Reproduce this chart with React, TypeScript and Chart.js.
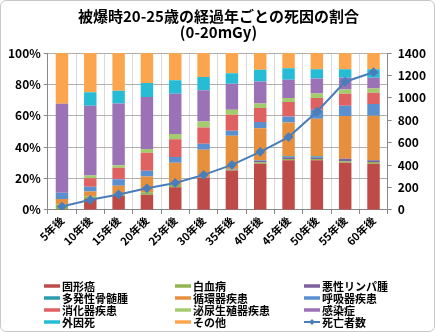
import React, { useEffect, useRef } from "react";
import { Chart, registerables } from "chart.js";

Chart.register(...registerables);

const categories = ["5年後", "10年後", "15年後", "20年後", "25年後", "30年後", "35年後", "40年後", "45年後", "50年後", "55年後", "60年後"];

const solidCancer = [0.5, 6.9, 9.0, 9.7, 14.4, 20.6, 25.2, 29.5, 31.6, 31.6, 30.1, 29.5];
const leukemia = [3.0, 1.7, 0.8, 1.5, 1.5, 0.4, 0.6, 0.9, 0.8, 0.8, 1.0, 1.0];
const lymphoma = [0, 0, 0, 0, 0, 0.2, 0.4, 1.0, 1.2, 1.0, 1.5, 1.1];
const myeloma = [0, 0, 0, 0, 0, 0, 0, 0.3, 0.6, 0.8, 0, 0];
const circulatory = [3.5, 3.2, 5.6, 10.1, 14.2, 17.2, 21.1, 20.4, 21.5, 23.9, 27.3, 28.4];
const respiratory = [4.0, 3.0, 4.1, 3.7, 3.7, 3.7, 3.2, 3.9, 3.9, 5.8, 6.5, 7.5];
const digestive = [0, 5.4, 7.3, 11.4, 11.2, 10.5, 10.1, 9.0, 9.2, 7.5, 7.7, 7.1];
const urogenital = [0, 1.7, 1.7, 2.4, 3.4, 3.7, 3.2, 2.8, 2.6, 2.8, 2.6, 2.8];
const infection = [56.7, 44.5, 39.4, 33.1, 25.6, 20.0, 16.6, 14.0, 11.6, 9.5, 7.5, 6.9];
const external = [0, 8.6, 8.0, 9.0, 8.6, 8.4, 6.7, 7.5, 7.3, 6.0, 5.4, 5.4];
const other = [32.3, 25.0, 24.1, 19.1, 17.4, 15.3, 12.9, 10.8, 9.7, 10.3, 10.3, 10.3];
const deaths = [30, 90, 138, 193, 241, 313, 402, 518, 650, 876, 1144, 1228];

const seriesNames = ["固形癌", "白血病", "悪性リンパ腫", "多発性骨髄腫", "循環器疾患", "呼吸器疾患", "消化器疾患", "泌尿生殖器疾患", "感染症", "外因死", "その他"];
const seriesColors = ["#BE4B48", "#90B550", "#7D60A0", "#2C9CB0", "#E6903D", "#5A8FD0", "#E06161", "#A3CD6D", "#9C72B7", "#27BCD6", "#FBA64E"];
const lineName = "死亡者数";
const lineColor = "#4A7EBB";

const FONT = "'Noto Sans CJK JP', 'Noto Sans', sans-serif";

const legendPlugin = {
  id: "gridLegend",
  afterDraw(chart: any) {
    const ctx = chart.ctx;
    const colX = [43, 174, 303];
    const rowY = [285, 297, 309, 321];
    ctx.save();
    ctx.font = `bold 11px ${FONT}`;
    ctx.textBaseline = "middle";
    ctx.fillStyle = "#000";
    chart.data.datasets.forEach((ds: any, i: number) => {
      const x = colX[i % 3];
      const y = rowY[Math.floor(i / 3)];
      ctx.strokeStyle = ds.type === "line" ? ds.borderColor : ds.backgroundColor;
      if (ds.type === "line") {
        ctx.lineWidth = 2;
        ctx.beginPath();
        ctx.moveTo(x, y);
        ctx.lineTo(x + 16, y);
        ctx.stroke();
        ctx.fillStyle = ds.borderColor;
        ctx.beginPath();
        ctx.moveTo(x + 8, y - 3);
        ctx.lineTo(x + 11, y);
        ctx.lineTo(x + 8, y + 3);
        ctx.lineTo(x + 5, y);
        ctx.closePath();
        ctx.fill();
      } else {
        ctx.lineWidth = 3.5;
        ctx.beginPath();
        ctx.moveTo(x, y);
        ctx.lineTo(x + 16, y);
        ctx.stroke();
      }
      ctx.fillStyle = "#000";
      ctx.fillText(ds.label, x + 18, y + 0.5);
    });
    ctx.restore();
  },
};

export default function App() {
  const ref = useRef<HTMLCanvasElement>(null);
  useEffect(() => {
    const seriesData = [solidCancer, leukemia, lymphoma, myeloma, circulatory, respiratory, digestive, urogenital, infection, external, other];
    const barSets = seriesNames.map((name, i) => ({
      type: "bar" as const,
      label: name,
      data: seriesData[i],
      backgroundColor: seriesColors[i],
      borderWidth: 0,
      yAxisID: "y",
      stack: "s",
      barPercentage: 0.44,
      categoryPercentage: 1,
      order: 1,
    }));
    const lineSet = {
      type: "line" as const,
      label: lineName,
      data: deaths,
      borderColor: lineColor,
      backgroundColor: lineColor,
      borderWidth: 2,
      pointStyle: "rectRot",
      pointRadius: 3.5,
      pointBackgroundColor: lineColor,
      pointBorderColor: lineColor,
      yAxisID: "y1",
      order: 0,
      tension: 0,
    };
    const chart = new Chart(ref.current!, {
      type: "bar",
      data: { labels: categories, datasets: [...barSets, lineSet] as any },
      options: {
        animation: false,
        responsive: true,
        maintainAspectRatio: false,
        layout: { padding: { left: 4, right: 2, top: 0, bottom: 83 } },
        plugins: {
          legend: { display: false },
          tooltip: { enabled: false },
          title: {
            display: true,
            text: ["被爆時20-25歳の経過年ごとの死因の割合", "(0-20mGy)"],
            font: { family: FONT, size: 15, weight: "bold", lineHeight: 1.1 },
            color: "#000",
            padding: { top: 7, bottom: 12 },
          },
        },
        scales: {
          x: {
            stacked: true,
            grid: { display: true, color: "#d9d9d9", offset: true, tickLength: 4, tickColor: "#888" },
            border: { color: "#888" },
            ticks: { minRotation: 45, maxRotation: 45, color: "#000", font: { family: FONT, size: 11, weight: "bold" }, padding: 0 },
          },
          y: {
            stacked: true,
            min: 0,
            max: 100,
            position: "left",
            grid: { color: "#b0b0b0", tickLength: 4, tickColor: "#888" },
            border: { color: "#888" },
            ticks: { stepSize: 10, color: "#000", padding: 3, font: { family: FONT, size: 12, weight: "bold" }, callback: (v: any) => v + "%" },
          },
          y1: {
            min: 0,
            max: 1400,
            position: "right",
            grid: { drawOnChartArea: false, tickLength: 4, tickColor: "#888" },
            border: { color: "#888" },
            ticks: { stepSize: 200, color: "#000", padding: 6, font: { family: FONT, size: 12, weight: "bold" }, callback: (v: any) => String(v) },
          },
        },
      },
      plugins: [legendPlugin],
    });
    return () => chart.destroy();
  }, []);
  return (
    <div style={{ position: "fixed", left: 0, top: 0, width: 435, height: 332, boxSizing: "border-box", border: "1px solid #c8c8c8", borderRadius: 6, background: "#fff", overflow: "hidden" }}>
      <canvas ref={ref} />
    </div>
  );
}
